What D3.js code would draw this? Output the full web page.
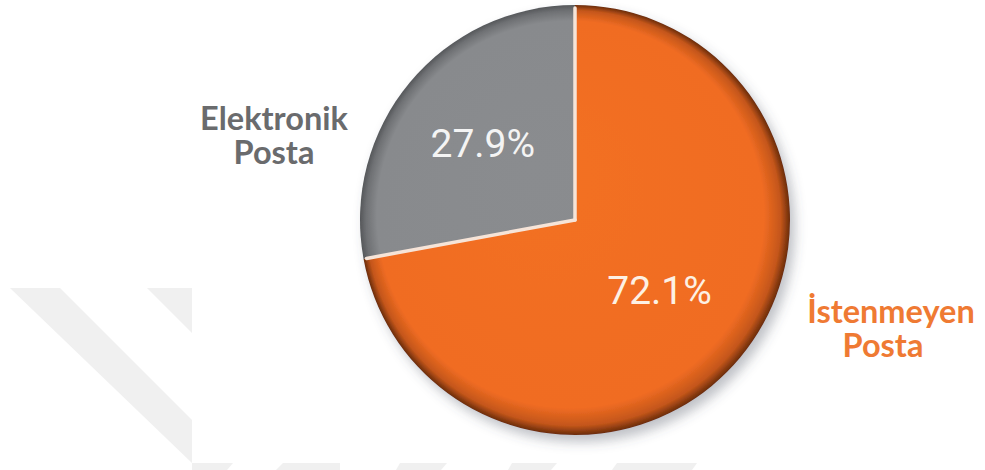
<!DOCTYPE html>
<html>
<head>
<meta charset="utf-8">
<script src="https://cdn.jsdelivr.net/npm/d3@7"></script>
<style>
  html, body { margin: 0; padding: 0; background: #fff; }
  svg { display: block; }
</style>
</head>
<body>
<svg id="chart" width="985" height="470"></svg>
<script>
// slice data (order: clockwise from 12 o'clock)
const categories = ["İstenmeyen Posta", "Elektronik Posta"];
const values = [72.1, 27.9];
const percentLabels = ["72.1%", "27.9%"];
const labelLines = [["İstenmeyen", "Posta"], ["Elektronik", "Posta"]];

const svg = d3.select("#chart"),
    width = +svg.attr("width"),
    height = +svg.attr("height");

const cx = 575, cy = 220, radius = 215;

const defs = svg.append("defs");

// faint watermark shapes in the background
const watermark = [
    [[10, 288], [60, 288], [192, 420], [192, 463]],
    [[147, 288], [192, 288], [192, 333]],
    [[192, 463], [233, 463], [227, 470], [192, 470]],
    [[283, 463], [340, 463], [340, 470], [276, 470]],
    [[400, 463], [447, 463], [441, 470], [396, 470]],
    [[512, 463], [557, 463], [551, 470], [508, 470]],
    [[617, 463], [697, 463], [692, 470], [612, 470]]
];
svg.append("g")
    .selectAll("polygon")
    .data(watermark)
    .enter()
    .append("polygon")
    .attr("points", d => d.map(p => p.join(",")).join(" "))
    .attr("fill", "#f0f0f0");

const shadow = defs.append("filter")
    .attr("id", "shadow")
    .attr("x", "-20%").attr("y", "-20%")
    .attr("width", "140%").attr("height", "140%");
shadow.append("feDropShadow")
    .attr("dx", 5).attr("dy", 7)
    .attr("stdDeviation", 6)
    .attr("flood-color", "#4a5060")
    .attr("flood-opacity", 0.35);

const fills = {
    "İstenmeyen Posta": ["#f37024", "#f06c22", "#c4561a", "#6a2c0b"],
    "Elektronik Posta": ["#8a8c8f", "#888a8d", "#6e7073", "#55575a"]
};
categories.forEach((c, i) => {
    const g = defs.append("radialGradient")
        .attr("id", "grad" + i)
        .attr("gradientUnits", "userSpaceOnUse")
        .attr("cx", 0).attr("cy", 0).attr("r", radius)
        .attr("fx", -45).attr("fy", -55);
    const f = fills[c];
    [[0, f[0]], [0.9, f[1]], [0.965, f[2]], [1, f[3]]].forEach(s => {
        g.append("stop").attr("offset", s[0]).attr("stop-color", s[1]);
    });
});

const pie = d3.pie().sort(null).value(d => d);
const arcs = pie(values);

const arc = d3.arc().innerRadius(0).outerRadius(radius);
const labelArc = [d3.arc().innerRadius(110).outerRadius(110),
                  d3.arc().innerRadius(120).outerRadius(120)];

const g = svg.append("g")
    .attr("transform", "translate(" + cx + "," + cy + ")");

const slices = g.append("g").attr("filter", "url(#shadow)");
slices.selectAll("path")
    .data(arcs)
    .enter()
    .append("path")
    .attr("d", arc)
    .attr("fill", (d, i) => "url(#grad" + i + ")");

// light separators between slices
g.selectAll("line.sep")
    .data(arcs)
    .enter()
    .append("line")
    .attr("class", "sep")
    .attr("x1", 0).attr("y1", 0)
    .attr("x2", d => d3.pointRadial(d.startAngle, radius - 3)[0])
    .attr("y2", d => d3.pointRadial(d.startAngle, radius - 3)[1])
    .attr("stroke", "#f6e4d8")
    .attr("stroke-width", 3.5)
    .attr("stroke-linecap", "round");

// percentages inside slices
g.selectAll("text.pct")
    .data(arcs)
    .enter()
    .append("text")
    .attr("class", "pct")
    .attr("transform", (d, i) => "translate(" + labelArc[i].centroid(d) + ")")
    .attr("text-anchor", "middle")
    .attr("dy", "0.36em")
    .attr("font-family", "Roboto, 'DejaVu Sans', sans-serif")
    .attr("font-size", 39)
    .attr("fill", (d, i) => i === 0 ? "#fdf1e4" : "#f4f4f4")
    .text((d, i) => percentLabels[i]);

// outer category labels
const outerPos = [[891, 323], [274, 130]];
const outerColor = ["#ef7a33", "#6a6b6d"];
labelLines.forEach((lines, i) => {
    const t = svg.append("text")
        .attr("text-anchor", "middle")
        .attr("font-family", "Lato, 'Open Sans', sans-serif")
        .attr("font-weight", "bold")
        .attr("font-size", 32.5)
        .attr("fill", outerColor[i]);
    lines.forEach((s, j) => {
        t.append("tspan")
            .attr("x", j === 0 ? outerPos[i][0] : outerPos[i][0] - (i === 0 ? 8 : 0))
            .attr("y", outerPos[i][1] + j * 34)
            .text(s);
    });
});
</script>
</body>
</html>
